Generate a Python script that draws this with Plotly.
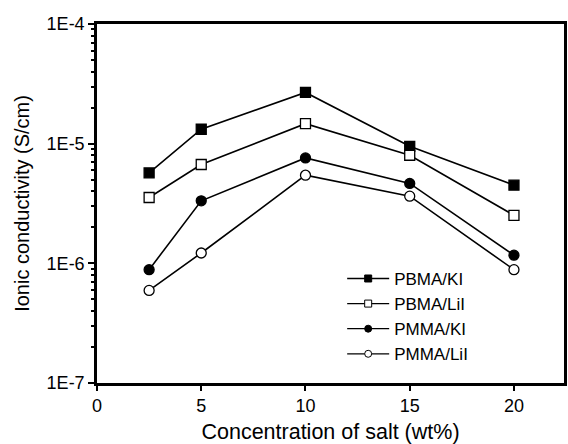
import plotly.graph_objects as go

conc = [2.5, 5, 10, 15, 20]
pbma_ki = [5.7e-6, 1.32e-5, 2.68e-5, 9.5e-6, 4.5e-6]
pbma_lii = [3.55e-6, 6.7e-6, 1.47e-5, 8.0e-6, 2.52e-6]
pmma_ki = [8.85e-7, 3.33e-6, 7.6e-6, 4.65e-6, 1.17e-6]
pmma_lii = [5.94e-7, 1.22e-6, 5.45e-6, 3.64e-6, 8.85e-7]

names = ["PBMA/KI", "PBMA/LiI", "PMMA/KI", "PMMA/LiI"]
series = [pbma_ki, pbma_lii, pmma_ki, pmma_lii]
symbols = ["square", "square", "circle", "circle"]
fills = ["black", "white", "black", "white"]

y_tickvals = [1e-7, 1e-6, 1e-5, 1e-4]
y_ticktext = ["1E-7", "1E-6", "1E-5", "1E-4"]
x_tickvals = [0, 5, 10, 15, 20]

minor_vals = [m * 10.0 ** e for e in (-7, -6, -5) for m in range(2, 10)]

FONT = "Arial, Liberation Sans, sans-serif"

fig = go.Figure()
for name, vals, sym, fc in zip(names, series, symbols, fills):
    fig.add_trace(go.Scatter(
        x=conc, y=vals, mode="lines+markers", name=name, showlegend=False,
        line=dict(color="black", width=1.6),
        marker=dict(symbol=sym, size=10, color=fc,
                    line=dict(color="black", width=1.3)),
    ))
for name, sym, fc in zip(names, symbols, fills):
    fig.add_trace(go.Scatter(
        x=[None], y=[None], mode="lines+markers", name=name, showlegend=True,
        line=dict(color="black", width=1.3),
        marker=dict(symbol=sym, size=7, color=fc,
                    line=dict(color="black", width=1)),
    ))

fig.update_layout(
    width=568, height=444,
    margin=dict(l=97, r=1, t=24, b=61),
    paper_bgcolor="white", plot_bgcolor="white",
    font=dict(family=FONT, color="black", size=18),
    legend=dict(x=0.525, y=0.34, xanchor="left", yanchor="top",
                bgcolor="rgba(0,0,0,0)", font=dict(size=17, family=FONT),
                tracegroupgap=0, itemwidth=42),
)
fig.update_xaxes(
    range=[0, 22.4], tickvals=x_tickvals, showgrid=False, zeroline=False,
    showline=True, linecolor="black", linewidth=2.5, mirror=True,
    ticks="outside", ticklen=5, tickwidth=2, tickcolor="black",
    tickfont=dict(size=18),
    title=dict(text="Concentration of salt (wt%)", font=dict(size=21.5), standoff=10),
)
fig.update_yaxes(
    type="log", range=[-7, -4], tickvals=y_tickvals, ticktext=y_ticktext,
    showgrid=False, zeroline=False,
    showline=True, linecolor="black", linewidth=2.5, mirror=True,
    ticks="outside", ticklen=6, tickwidth=2, tickcolor="black",
    tickfont=dict(size=18),
    minor=dict(tickvals=minor_vals, ticks="outside", ticklen=3, tickwidth=1.5,
               tickcolor="black", showgrid=False),
    title=dict(text="Ionic conductivity (S/cm)", font=dict(size=20), standoff=12),
)

fig.write_html("out.html")
